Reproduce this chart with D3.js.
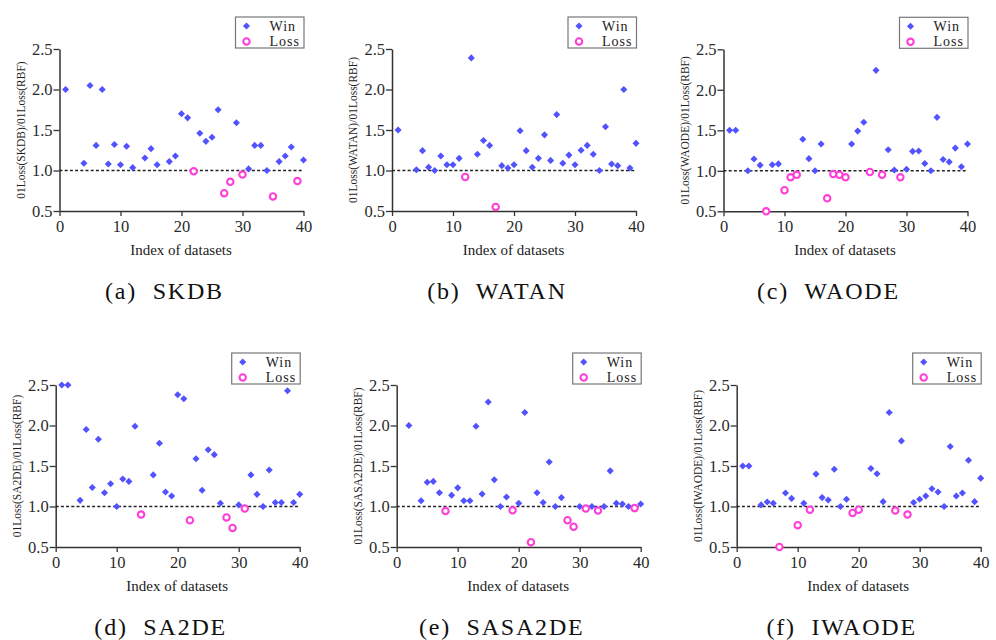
<!DOCTYPE html>
<html>
<head>
<meta charset="utf-8">
<script src="https://cdn.jsdelivr.net/npm/d3@7"></script>
<style>
  body { margin: 0; background: #fff; }
</style>
</head>
<body>
<div id="d3-container"></div>
<script>
// [dataset index, 01Loss(X)/01Loss(RBF)]
const skdbWin = [[1,2.0],[4,1.09],[5,2.05],[6,1.31],[7,2.0],[8,1.08],[9,1.32],[10,1.07],[11,1.30],[12,1.035],
  [14,1.155],[15,1.27],[16,1.07],[18,1.11],[19,1.18],[20,1.70],[21,1.65],[23,1.46],[24,1.36],[25,1.41],
  [26,1.75],[29,1.59],[31,1.02],[32,1.31],[33,1.31],[34,1.0],[36,1.11],[37,1.18],[38,1.29],[40,1.13]];
const skdbLoss = [[22,0.99],[27,0.72],[28,0.86],[30,0.95],[35,0.68],[39,0.87]];

const watanWin = [[1,1.5],[4,1.01],[5,1.245],[6,1.04],[7,1.0],[8,1.18],[9,1.07],[10,1.07],[11,1.15],[13,2.39],
  [14,1.20],[15,1.37],[16,1.31],[18,1.06],[19,1.03],[20,1.07],[21,1.49],[22,1.245],[23,1.04],[24,1.15],
  [25,1.44],[26,1.125],[27,1.69],[28,1.09],[29,1.19],[30,1.07],[31,1.25],[32,1.31],[33,1.20],[34,1.0],
  [35,1.54],[36,1.08],[37,1.06],[38,2.0],[39,1.03],[40,1.335]];
const watanLoss = [[12,0.92],[17,0.55]];

const waodeWin = [[1,1.5],[2,1.5],[4,1.0],[5,1.146],[6,1.07],[8,1.075],[9,1.085],[13,1.39],[14,1.15],[15,1.0],
  [16,1.33],[21,1.33],[22,1.49],[23,1.60],[25,2.24],[27,1.26],[28,1.01],[30,1.02],[31,1.24],[32,1.245],
  [33,1.09],[34,1.0],[35,1.66],[36,1.14],[37,1.11],[38,1.28],[39,1.05],[40,1.33]];
const waodeLoss = [[7,0.5],[10,0.76],[11,0.92],[12,0.95],[17,0.66],[18,0.96],[19,0.95],[20,0.92],
  [24,0.985],[26,0.95],[29,0.92]];

const sa2deWin = [[1,2.5],[2,2.5],[4,1.076],[5,1.95],[6,1.235],[7,1.83],[8,1.17],[9,1.28],[10,1.0],[11,1.34],
  [12,1.31],[13,1.99],[16,1.39],[17,1.78],[18,1.18],[19,1.13],[20,2.38],[21,2.33],[23,1.59],[24,1.2],
  [25,1.70],[26,1.64],[27,1.04],[30,1.02],[32,1.39],[33,1.15],[34,1.0],[35,1.45],[36,1.05],[37,1.05],
  [38,2.43],[39,1.05],[40,1.15]];
const sa2deLoss = [[14,0.90],[22,0.83],[28,0.865],[29,0.735],[31,0.975]];

const sasa2deWin = [[2,2.0],[4,1.07],[5,1.30],[6,1.31],[7,1.17],[9,1.14],[10,1.23],[11,1.07],[12,1.07],[13,1.99],
  [14,1.155],[15,2.29],[16,1.33],[17,1.0],[18,1.117],[20,1.04],[21,2.16],[23,1.17],[24,1.05],[25,1.55],
  [26,1.0],[27,1.11],[30,1.0],[32,1.0],[34,1.0],[35,1.44],[36,1.04],[37,1.03],[38,1.0],[40,1.03]];
const sasa2deLoss = [[8,0.944],[19,0.953],[22,0.56],[28,0.83],[29,0.75],[31,0.975],[33,0.95],[39,0.98]];

const iwaodeWin = [[1,1.5],[2,1.5],[4,1.02],[5,1.056],[6,1.04],[8,1.167],[9,1.10],[11,1.04],[13,1.40],[14,1.11],
  [15,1.08],[16,1.46],[17,1.0],[18,1.09],[22,1.47],[23,1.405],[24,1.06],[25,2.16],[27,1.81],[29,1.05],
  [30,1.09],[31,1.13],[32,1.22],[33,1.18],[34,1.0],[35,1.74],[36,1.13],[37,1.167],[38,1.57],[39,1.06],[40,1.35]];
const iwaodeLoss = [[7,0.5],[10,0.77],[12,0.96],[19,0.92],[20,0.96],[26,0.95],[28,0.90]];

const methods = ["SKDB", "WATAN", "WAODE", "SA2DE", "SASA2DE", "IWAODE"];
const letters = ["a", "b", "c", "d", "e", "f"];
const xTicks = [0, 10, 20, 30, 40];
const yTicks = [0.5, 1.0, 1.5, 2.0, 2.5];
const legendLabels = ["Win", "Loss"];

const winColor = "#5252ff", lossColor = "#ff3fd8";
const serif = "'Liberation Serif', 'Times New Roman', serif";

const panels = [
  {win: skdbWin, loss: skdbLoss, left: 59.5, top: 49},
  {win: watanWin, loss: watanLoss, left: 392, top: 49},
  {win: waodeWin, loss: waodeLoss, left: 723.5, top: 49.3},
  {win: sa2deWin, loss: sa2deLoss, left: 55.7, top: 385},
  {win: sasa2deWin, loss: sasa2deLoss, left: 396.7, top: 385},
  {win: iwaodeWin, loss: iwaodeLoss, left: 736.7, top: 385}
];
const plotW = 244, plotH = 162;

const svg = d3.select("#d3-container")
  .append("svg")
  .attr("width", 996)
  .attr("height", 640)
  .attr("font-family", serif)
  .style("display", "block");

const diamond = d3.symbol().type(d3.symbolDiamond2).size(32);

panels.forEach((p, k) => {
  const g = svg.append("g").attr("transform", `translate(${p.left},${p.top})`);

  let x = d3.scaleLinear().domain([0, 40]).range([0, plotW]);
  let y = d3.scaleLinear().domain([0.5, 2.5]).range([plotH, 0]);

  // axes
  const ax = g.append("g")
    .attr("transform", `translate(0,${plotH})`)
    .call(d3.axisBottom(x).tickValues(xTicks).tickFormat(d3.format("d")).tickSize(5).tickPadding(4).tickSizeOuter(0));
  const ay = g.append("g")
    .call(d3.axisLeft(y).tickValues(yTicks).tickFormat(d3.format(".1f")).tickSize(6).tickPadding(1).tickSizeOuter(0));
  [ax, ay].forEach(a => {
    a.attr("font-family", serif).attr("font-size", 16.5);
    a.select(".domain").attr("stroke", "#333").attr("stroke-width", 1.5);
    a.selectAll(".tick line").attr("stroke", "#333").attr("stroke-width", 1.3);
    a.selectAll(".tick text").attr("fill", "#2a2a2a");
  });

  // reference line at 1.0
  g.append("line")
    .attr("x1", x(0)).attr("x2", x(40))
    .attr("y1", y(1)).attr("y2", y(1))
    .attr("stroke", "#222").attr("stroke-width", 1.4)
    .attr("stroke-dasharray", "3,2.2");

  // points
  g.append("g").selectAll("path")
    .data(p.win)
    .join("path")
    .attr("d", diamond)
    .attr("transform", d => `translate(${x(d[0])},${y(d[1])})`)
    .attr("fill", winColor);

  g.append("g").selectAll("circle")
    .data(p.loss)
    .join("circle")
    .attr("cx", d => x(d[0]))
    .attr("cy", d => y(d[1]))
    .attr("r", 3.2)
    .attr("fill", "#fff")
    .attr("stroke", lossColor)
    .attr("stroke-width", 2.1);

  // axis titles
  g.append("text")
    .attr("x", plotW / 2 - 0.5)
    .attr("y", plotH + 44)
    .attr("text-anchor", "middle")
    .attr("font-size", 15)
    .attr("fill", "#222")
    .text("Index of datasets");

  g.append("text")
    .attr("transform", `translate(-35,${plotH / 2}) rotate(-90)`)
    .attr("text-anchor", "middle")
    .attr("font-size", 11.5)
    .attr("fill", "#222")
    .text(`01Loss(${methods[k]})/01Loss(RBF)`);

  // legend
  const lg = g.append("g").attr("transform", `translate(${plotW - 68},-32)`);
  lg.append("rect")
    .attr("width", 68.5).attr("height", 31)
    .attr("fill", "#fff").attr("stroke", "#777").attr("stroke-width", 1.2);
  lg.append("path").attr("d", diamond).attr("transform", "translate(11,9)").attr("fill", winColor);
  lg.append("circle").attr("cx", 11).attr("cy", 24.5).attr("r", 3.2)
    .attr("fill", "#fff").attr("stroke", lossColor).attr("stroke-width", 2.1);
  legendLabels.forEach((t, i) => {
    lg.append("text")
      .attr("x", 34).attr("y", 13.5 + i * 15.5)
      .attr("font-size", 14)
      .attr("letter-spacing", 1)
      .attr("fill", "#222")
      .text(t);
  });

  // caption
  g.append("text")
    .attr("x", plotW / 2 - 17)
    .attr("y", plotH + 88)
    .attr("text-anchor", "middle")
    .attr("font-size", 24)
    .attr("letter-spacing", 1.8)
    .attr("fill", "#111")
    .attr("xml:space", "preserve")
    .text(`(${letters[k]})  ${methods[k]}`);
});
</script>
</body>
</html>
